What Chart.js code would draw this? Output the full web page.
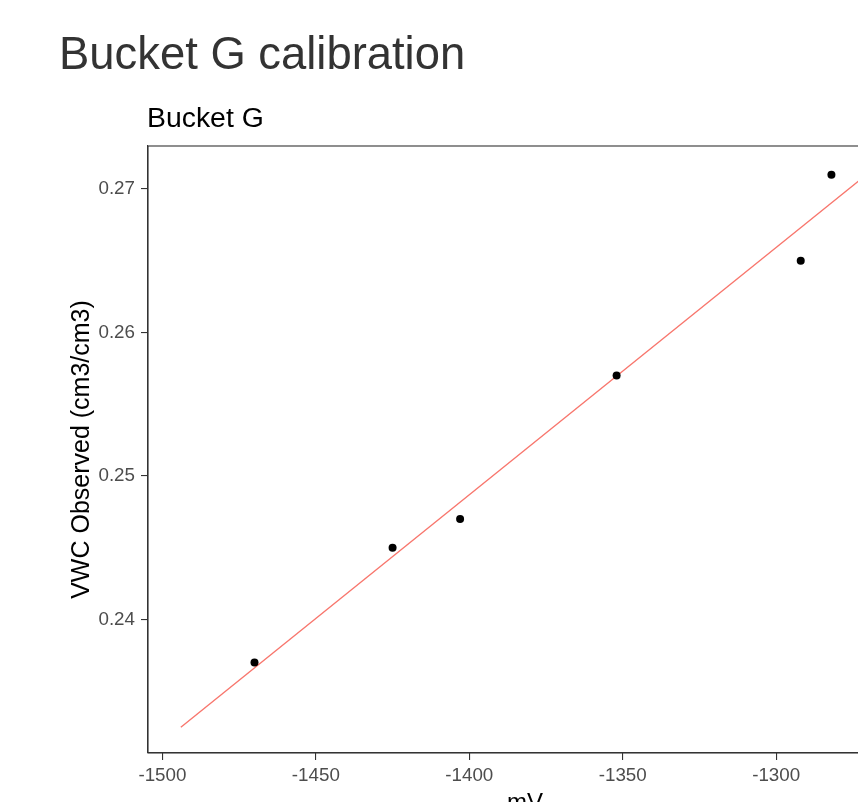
<!DOCTYPE html>
<html lang="en">
<head>
<meta charset="UTF-8">
<title>Bucket G calibration</title>
<script src="https://cdn.jsdelivr.net/npm/chart.js"></script>
<style>
    html, body { margin: 0; padding: 0; background: #fff; overflow: hidden; }
    #wrap { position: relative; width: 940px; height: 830px; font-family: "Liberation Sans", Arial, sans-serif; }
    #mainTitle { position: absolute; left: 59px; top: 31px; font-size: 45.4px; line-height: 45.4px; color: #333333; white-space: nowrap; }
    #subTitle { position: absolute; left: 147px; top: 103px; font-size: 28.4px; line-height: 28.4px; color: #000; white-space: nowrap; }
    #chart { position: absolute; left: 0; top: 0; }
</style>
</head>
<body>
<div id="wrap">
    <canvas id="chart" width="940" height="830"></canvas>
    <div id="mainTitle">Bucket G calibration</div>
    <div id="subTitle">Bucket G</div>
</div>
<script>
    // observed points (mV vs VWC)
    const mvObserved = [-1470, -1425, -1403, -1352, -1292, -1282];
    const vwcObserved = [0.237, 0.245, 0.247, 0.257, 0.265, 0.271];

    // calibration line ends
    const mvFit = [-1494, -1270];
    const vwcFit = [0.2325, 0.2711];

    const xTicks = [-1500, -1450, -1400, -1350, -1300];
    const yTicks = [0.24, 0.25, 0.26, 0.27];

    // full panel border like ggplot theme_bw
    const panelBorder = {
        id: 'panelBorder',
        afterDraw(chart) {
            const a = chart.chartArea;
            const ctx = chart.ctx;
            ctx.save();
            ctx.strokeStyle = '#333333';
            ctx.lineWidth = 1.1;
            ctx.strokeRect(a.left, a.top, a.right - a.left, a.bottom - a.top);
            ctx.restore();
        }
    };

    const tickFont = { family: '"Liberation Sans", Arial, sans-serif', size: 18.8 };
    const yTitleFont = { family: '"Liberation Sans", Arial, sans-serif', size: 25 };
    const xTitleFont = { family: '"Liberation Sans", Arial, sans-serif', size: 24 };

    new Chart(document.getElementById('chart'), {
        type: 'scatter',
        data: {
            datasets: [{
                label: 'observed',
                data: mvObserved.map((x, i) => ({ x: x, y: vwcObserved[i] })),
                backgroundColor: '#000',
                borderWidth: 0,
                pointRadius: 4,
                pointHoverRadius: 4
            }, {
                label: 'fit',
                data: mvFit.map((x, i) => ({ x: x, y: vwcFit[i] })),
                showLine: true,
                borderColor: '#F8766D',
                borderWidth: 1.4,
                pointRadius: 0,
                fill: false
            }]
        },
        options: {
            responsive: false,
            animation: false,
            devicePixelRatio: 1,
            layout: { padding: { left: 48, top: 146, right: 38, bottom: 7 } },
            plugins: { legend: { display: false }, tooltip: { enabled: false } },
            scales: {
                x: {
                    type: 'linear',
                    min: -1504.7,
                    max: -1259,
                    afterBuildTicks: s => { s.ticks = xTicks.map(v => ({ value: v })); },
                    afterFit: s => { s.height = 70; },
                    ticks: { color: '#4D4D4D', font: tickFont, padding: 5, maxRotation: 0, callback: v => String(v) },
                    grid: { drawOnChartArea: false, drawTicks: true, tickLength: 7, color: '#333333', lineWidth: 1.1 },
                    border: { display: true, color: '#333333', width: 1.1 },
                    title: { display: true, text: 'mV', color: '#000', font: xTitleFont, padding: { top: 0, bottom: 5 } }
                },
                y: {
                    type: 'linear',
                    min: 0.2307,
                    max: 0.273,
                    afterBuildTicks: s => { s.ticks = yTicks.map(v => ({ value: v })); },
                    afterFit: s => { s.width = 100; },
                    ticks: { color: '#4D4D4D', font: tickFont, padding: 6, callback: v => v.toFixed(2) },
                    grid: { drawOnChartArea: false, drawTicks: true, tickLength: 7, color: '#333333', lineWidth: 1.1 },
                    border: { display: true, color: '#333333', width: 1.1 },
                    title: { display: true, text: 'VWC Observed (cm3/cm3)', color: '#000', font: yTitleFont, padding: { top: 19, bottom: 0 } }
                }
            }
        },
        plugins: [panelBorder]
    });
</script>
</body>
</html>
